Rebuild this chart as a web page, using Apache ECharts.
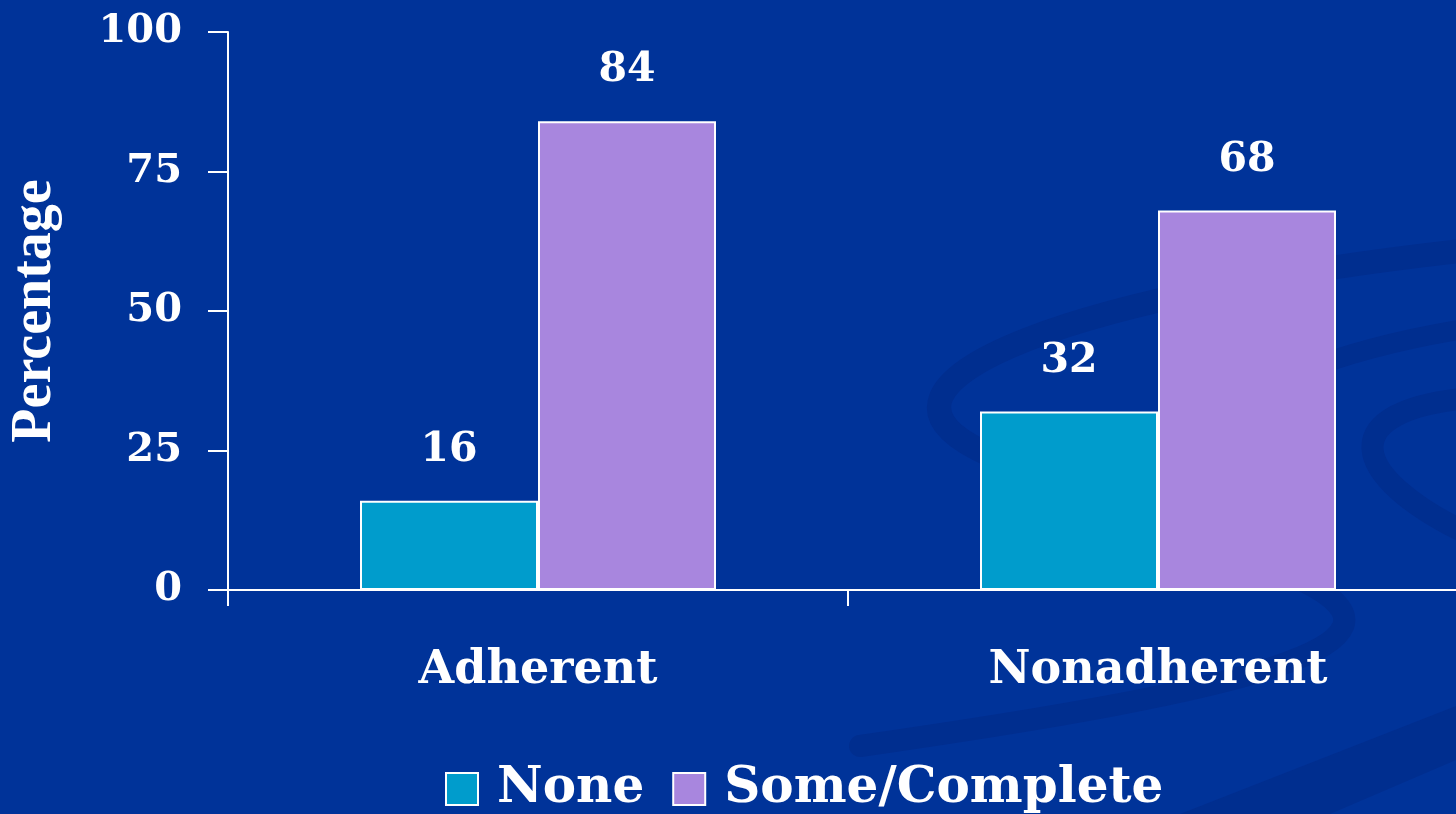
<!DOCTYPE html>
<html>
<head>
<meta charset="utf-8">
<style>
  html, body { margin: 0; padding: 0; background: #003399; }
  #chart { width: 1456px; height: 814px; }
</style>
<script src="https://cdn.jsdelivr.net/npm/echarts@6/dist/echarts.min.js"></script>
</head>
<body>
<div id="chart"></div>
<script>
// Adherence groups and the share of each tumour-response level
const categories = ['Adherent', 'Nonadherent'];
const noneValues = [16, 32];
const someCompleteValues = [84, 68];
const yTicks = [0, 25, 50, 75, 100];
const seriesNames = ['None', 'Some/Complete'];

const BG = '#003399';
const SWIRL = '#002e8f';
const WHITE = '#ffffff';
const SERIF = '"DejaVu Serif", "Liberation Serif", serif';

const chart = echarts.init(document.getElementById('chart'), null, { renderer: 'canvas' });

// Decorative darker swirl bands in the background
function band(p0, c1, c2, p1, w) {
  return {
    type: 'bezierCurve', z: -10, silent: true,
    shape: { x1: p0[0], y1: p0[1], cpx1: c1[0], cpy1: c1[1], cpx2: c2[0], cpy2: c2[1], x2: p1[0], y2: p1[1] },
    style: { stroke: SWIRL, lineWidth: w, fill: null, lineCap: 'round' }
  };
}

const option = {
  backgroundColor: BG,
  animation: false,
  graphic: [
    band([1470, 250], [1100, 290], [820, 380], [990, 455], 24),
    band([1300, 372], [1360, 348], [1420, 336], [1470, 328], 20),
    band([1470, 398], [1335, 410], [1345, 475], [1470, 535], 22),
    band([860, 746], [1250, 690], [1430, 645], [1305, 582], 22),
    {
      type: 'polygon', z: -10, silent: true,
      shape: { points: [[1180, 814], [1456, 706], [1456, 760], [1330, 814]] },
      style: { fill: SWIRL }
    }
  ],
  grid: { left: 228, top: 32, right: -12, bottom: 224, containLabel: false, outerBoundsMode: 'none' },
  legend: {
    left: 445, bottom: 0, padding: 0,
    itemWidth: 32, itemHeight: 32, itemGap: 28,
    icon: 'rect',
    data: seriesNames,
    itemStyle: { borderColor: WHITE, borderWidth: 2 },
    textStyle: { color: WHITE, fontFamily: SERIF, fontWeight: 'bold', fontSize: 50, padding: [0, 0, 0, 14] }
  },
  xAxis: {
    type: 'category',
    data: categories,
    axisLine: { show: true, lineStyle: { color: WHITE, width: 2 } },
    axisTick: { show: true, length: 16, lineStyle: { color: WHITE, width: 2 } },
    axisLabel: { color: WHITE, fontFamily: SERIF, fontWeight: 'bold', fontSize: 46, margin: 58 },
    splitLine: { show: false }
  },
  yAxis: {
    type: 'value',
    min: 0, max: 100, interval: 25,
    name: 'Percentage',
    nameLocation: 'middle',
    nameRotate: 90,
    nameGap: 164,
    nameTextStyle: { color: WHITE, fontFamily: '"Liberation Serif", serif', fontWeight: 'bold', fontSize: 56 },
    axisLine: { show: true, lineStyle: { color: WHITE, width: 2 } },
    axisTick: { show: true, length: 20, lineStyle: { color: WHITE, width: 2 } },
    axisLabel: {
      color: WHITE, fontFamily: SERIF, fontWeight: 'bold', fontSize: 40, margin: 46,
      formatter: function (v) { return yTicks.indexOf(v) >= 0 ? String(v) : ''; }
    },
    splitLine: { show: false }
  },
  series: [
    {
      name: seriesNames[0], type: 'bar', data: noneValues,
      barWidth: 178, barGap: '0%',
      itemStyle: { color: '#009ccc', borderColor: WHITE, borderWidth: 2 },
      label: { show: true, position: 'top', distance: 30, color: WHITE, fontFamily: SERIF, fontWeight: 'bold', fontSize: 41 }
    },
    {
      name: seriesNames[1], type: 'bar', data: someCompleteValues,
      barWidth: 178, barGap: '0%',
      itemStyle: { color: '#a886de', borderColor: WHITE, borderWidth: 2 },
      label: { show: true, position: 'top', distance: 30, color: WHITE, fontFamily: SERIF, fontWeight: 'bold', fontSize: 41 }
    }
  ]
};

chart.setOption(option);
</script>
</body>
</html>
